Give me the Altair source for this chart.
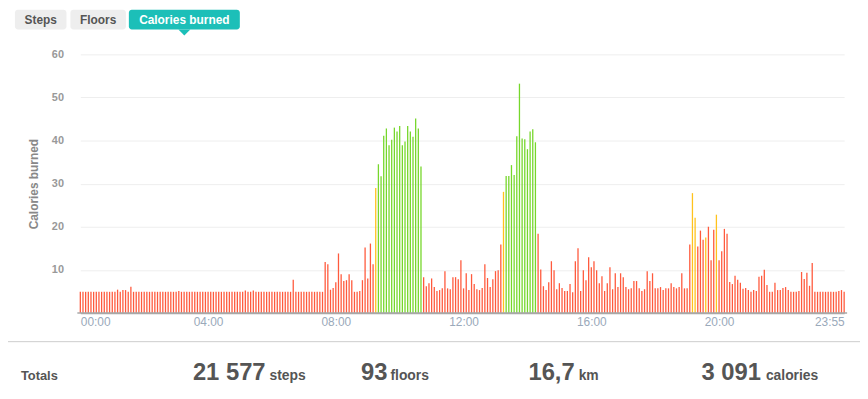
import altair as alt
import pandas as pd

# Calories burned per 5-minute slot (00:00 .. 23:55)
cal_00_04 = [4.9, 4.9, 4.9, 4.9, 4.9, 4.9, 4.9, 4.9, 4.9, 4.9, 4.9, 4.9,
             4.9, 4.9, 5.4, 4.9, 5.3, 5.3, 4.9, 6.1, 4.9, 4.9, 4.9, 4.9,
             4.9, 4.9, 4.9, 4.9, 4.9, 4.9, 4.9, 4.9, 4.9, 4.9, 4.9, 4.9,
             4.9, 5.1, 4.9, 4.9, 4.9, 4.9, 4.9, 4.9, 4.9, 4.9, 4.9, 4.9]
cal_04_08 = [4.9, 4.9, 4.9, 4.9, 4.9, 4.9, 4.9, 4.9, 4.9, 4.9, 4.9, 4.9,
             4.9, 4.9, 5.2, 4.9, 4.9, 5.2, 4.9, 4.9, 4.9, 4.9, 4.9, 4.9,
             4.9, 4.9, 4.9, 4.9, 4.9, 4.9, 4.9, 4.9, 7.7, 4.9, 4.9, 4.9,
             4.9, 4.9, 4.9, 4.9, 4.9, 4.9, 4.9, 4.9, 11.8, 11.3, 5.4, 5.8]
cal_08_12 = [7.1, 13.8, 9.0, 7.4, 7.6, 9.0, 7.6, 4.9, 4.9, 5.1, 7.6, 15.2,
             8.0, 16.1, 11.3, 29.0, 34.5, 31.7, 41.1, 42.8, 38.9, 40.2, 43.0, 42.1,
             43.4, 38.9, 39.8, 43.4, 42.1, 40.9, 45.1, 42.8, 34.0, 8.3, 6.2, 6.9,
             8.0, 6.0, 5.1, 5.3, 5.7, 9.7, 5.7, 5.5, 8.3, 8.3, 7.8, 12.2]
cal_12_16 = [5.7, 9.2, 5.3, 9.0, 6.7, 5.5, 5.3, 5.8, 11.3, 8.1, 6.0, 7.8,
             9.7, 9.9, 15.9, 28.1, 31.8, 31.8, 34.3, 32.0, 41.0, 53.2, 40.5, 40.3,
             38.0, 42.1, 42.6, 39.6, 18.4, 10.1, 6.2, 5.3, 7.1, 12.0, 9.9, 5.5,
             6.9, 5.8, 5.1, 5.1, 6.7, 4.8, 12.0, 15.0, 5.1, 9.9, 7.6, 12.9]
cal_16_20 = [10.6, 12.0, 9.9, 6.9, 8.5, 5.1, 6.9, 10.6, 5.5, 9.2, 6.0, 9.2,
             8.3, 6.0, 5.5, 5.7, 7.4, 7.4, 5.7, 5.1, 5.5, 9.7, 7.4, 9.2,
             5.7, 5.7, 6.0, 5.3, 5.7, 5.7, 6.9, 6.0, 5.7, 6.0, 9.2, 5.7,
             5.7, 15.9, 27.8, 22.1, 15.4, 19.1, 17.0, 17.5, 20.0, 12.2, 19.3, 22.8]
cal_20_24 = [12.2, 14.3, 19.5, 18.4, 7.2, 6.7, 8.6, 7.7, 7.0, 5.6, 5.8, 5.3,
             4.9, 5.3, 5.1, 8.4, 8.6, 10.0, 6.5, 4.9, 4.9, 7.0, 5.3, 5.3,
             5.8, 6.0, 5.3, 4.9, 4.9, 4.9, 5.1, 9.5, 7.9, 9.3, 6.3, 11.6,
             4.9, 4.9, 4.9, 4.9, 4.9, 4.9, 4.9, 4.9, 4.9, 5.1, 5.3, 4.9]

# activity level of slots (everything else is "low")
moderate_slots = ["09:15", "13:15", "19:10", "19:15", "19:35", "19:55"]
high_periods = [("09:20", "10:40"), ("13:20", "14:15")]

tick_minutes = [0, 240, 480, 720, 960, 1200, 1435]
y_ticks = [10, 20, 30, 40, 50, 60]

tabs = ["Steps", "Floors", "Calories burned"]
totals_numbers = ["21 577", "93", "16,7", "3 091"]
totals_units = ["steps", "floors", "km", "calories"]

values = cal_00_04 + cal_04_08 + cal_08_12 + cal_12_16 + cal_16_20 + cal_20_24


def to_min(s):
    h, m = s.split(":")
    return int(h) * 60 + int(m)


minutes = [i * 5 for i in range(len(values))]
mod_set = {to_min(s) for s in moderate_slots}
levels = []
for m in minutes:
    if m in mod_set:
        levels.append("moderate")
    elif any(to_min(a) <= m <= to_min(b) for a, b in high_periods):
        levels.append("high")
    else:
        levels.append("low")

df = pd.DataFrame({"minute": minutes, "cal": values, "level": levels})

FONT = "Liberation Sans"
TEAL = "#1CBFB8"

label_expr = ("(datum.value < 600 ? '0' : '') + floor(datum.value / 60) + ':' + "
              "(datum.value % 60 < 10 ? '0' : '') + (datum.value % 60)")

bars = alt.Chart(df).mark_bar(size=1.3).encode(
    x=alt.X("minute:Q",
            scale=alt.Scale(domain=[0, 1435], range=[3, 774], nice=False,
                            zero=False, padding=0),
            axis=alt.Axis(values=tick_minutes, labelExpr=label_expr, title=None,
                          grid=False, ticks=False, labelFlush=True,
                          domainColor="#a8a8a8", domainWidth=1.5,
                          labelColor="#9AA9BA", labelFontSize=12, labelFont=FONT,
                          labelPadding=4)),
    y=alt.Y("cal:Q",
            scale=alt.Scale(domain=[0, 60], nice=False, padding=0),
            axis=alt.Axis(values=y_ticks, title="Calories burned", grid=True,
                          gridColor="#eeeeee", domain=False, ticks=False,
                          labelColor="#999999", labelFontWeight="bold",
                          labelFontSize=11, labelFont=FONT, labelPadding=14,
                          titleColor="#888888", titleFontWeight="bold",
                          titleFontSize=12, titleFont=FONT, titlePadding=11)),
    color=alt.Color("level:N",
                    scale=alt.Scale(domain=["low", "moderate", "high"],
                                    range=["#FF5A3D", "#FFC21C", "#76D72B"]),
                    legend=None),
)

one = pd.DataFrame({"k": [0]})

layers = [bars]

# x axis line across the whole plot width
layers.append(alt.Chart(one).mark_rule(color="#a8a8a8", strokeWidth=1.5).encode(
    x=alt.value(0), x2=alt.value(777), y=alt.value(261)))

# tabs
tab_boxes = [(-63, -11), (-7, 49), (52, 164)]
for name, (x0, x1) in zip(tabs, tab_boxes):
    active = name == "Calories burned"
    layers.append(alt.Chart(one).mark_rect(
        cornerRadius=3, color=TEAL if active else "#EEEEEE").encode(
        x=alt.value(x0), x2=alt.value(x1), y=alt.value(-45), y2=alt.value(-25)))
    layers.append(alt.Chart(one).mark_text(
        text=name, font=FONT, fontSize=12, fontWeight="bold",
        color="#FFFFFF" if active else "#555555", baseline="middle", align="center").encode(
        x=alt.value((x0 + x1) / 2), y=alt.value(-35)))

layers.append(alt.Chart(one).mark_point(
    shape="M-1,-0.5L1,-0.5L0,0.5Z", size=144, filled=True, opacity=1,
    color=TEAL, strokeWidth=0).encode(x=alt.value(108), y=alt.value(-22)))

# totals row
layers.append(alt.Chart(one).mark_rule(color="#cccccc", strokeWidth=1).encode(
    x=alt.value(-70), x2=alt.value(790), y=alt.value(290)))
layers.append(alt.Chart(one).mark_text(
    text="Totals", font=FONT, fontSize=13, fontWeight="bold", color="#555555",
    align="left", baseline="alphabetic").encode(x=alt.value(-57), y=alt.value(329)))

num_right = [190, 313, 502, 690]
unit_left = [194, 316, 506, 695]
for num, unit, xr, xl in zip(totals_numbers, totals_units, num_right, unit_left):
    layers.append(alt.Chart(one).mark_text(
        text=num, font=FONT, fontSize=24, fontWeight="bold", color="#555555",
        align="right", baseline="alphabetic").encode(x=alt.value(xr), y=alt.value(329)))
    layers.append(alt.Chart(one).mark_text(
        text=unit, font=FONT, fontSize=14, fontWeight="bold", color="#555555",
        align="left", baseline="alphabetic").encode(x=alt.value(xl), y=alt.value(329)))

chart = alt.layer(*layers).properties(
    width=777, height=261,
    padding={"left": 70, "top": 45, "right": 13, "bottom": 76},
    autosize="none",
).configure_view(stroke=None)

chart.save("out.html", embed_options={"renderer": "svg", "actions": False})
